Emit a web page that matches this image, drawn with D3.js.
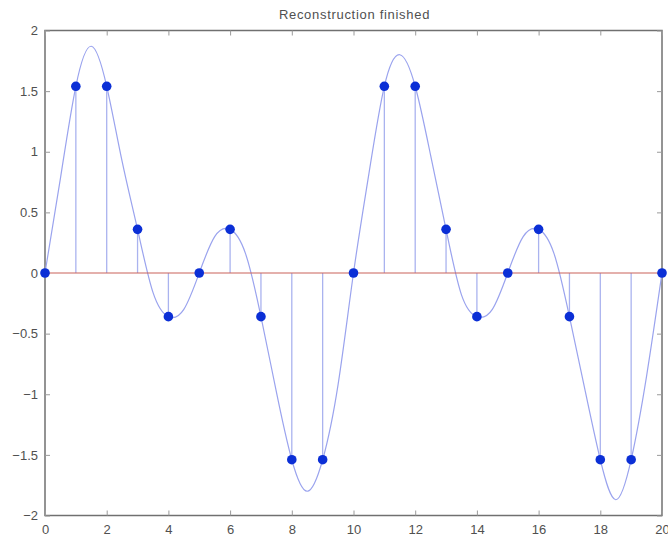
<!DOCTYPE html>
<html>
<head>
<meta charset="utf-8">
<script src="https://cdn.jsdelivr.net/npm/d3@7"></script>
<style>
  html, body { margin: 0; padding: 0; background: #ffffff; }
  svg { display: block; }
  text { font-family: "Liberation Sans", Arial, Helvetica, sans-serif; }
</style>
</head>
<body>
<svg id="chart" width="668" height="539"></svg>
<script>
// Sample indices and the sampled signal values
const sampleIndex = [0, 1, 2, 3, 4, 5, 6, 7, 8, 9, 10, 11, 12, 13, 14, 15, 16, 17, 18, 19, 20];
const sampleValues = [0, 1.54, 1.54, 0.36, -0.36, 0, 0.36, -0.36, -1.54, -1.54, 0,
                      1.54, 1.54, 0.36, -0.36, 0, 0.36, -0.36, -1.54, -1.54, 0];

// Reconstructed continuous signal, tabulated every half unit
const curveT = [0, 0.5, 1, 1.5, 2, 2.5, 3, 3.5, 4, 4.5, 5, 5.5, 6, 6.5, 7, 7.5, 8, 8.5, 9, 9.5, 10,
                10.5, 11, 11.5, 12, 12.5, 13, 13.5, 14, 14.5, 15, 15.5, 16, 16.5, 17, 17.5, 18, 18.5, 19, 19.5, 20];
const curveValues = [0, 0.78, 1.54, 1.87, 1.54, 0.92, 0.36, -0.16, -0.36, -0.30, 0, 0.30, 0.36, 0.16, -0.36, -0.98, -1.54, -1.80, -1.54, -0.92, 0,
                     0.82, 1.54, 1.80, 1.54, 0.97, 0.36, -0.18, -0.36, -0.30, 0, 0.30, 0.36, 0.16, -0.36, -0.96, -1.54, -1.87, -1.54, -0.85, 0];

// Axis tick labels
const xTicks = [0, 2, 4, 6, 8, 10, 12, 14, 16, 18, 20];
const yTicks = [-2, -1.5, -1, -0.5, 0, 0.5, 1, 1.5, 2];
const titleText = "Reconstruction finished";

const svg = d3.select("#chart");
const plotLeft = 45, plotRight = 662, plotTop = 30.5, plotBottom = 515.5;

const x = d3.scaleLinear().domain([0, 20]).range([plotLeft, plotRight]);
const y = d3.scaleLinear().domain([-2, 2]).range([plotBottom, plotTop]);

const axisColor = "#707070";
const labelColor = "#505050";

// Plot box
svg.append("rect")
  .attr("x", plotLeft).attr("y", plotTop)
  .attr("width", plotRight - plotLeft).attr("height", plotBottom - plotTop)
  .attr("fill", "none").attr("stroke", axisColor).attr("stroke-width", 1.5);

// Inward ticks on all four sides (box style)
const tickLen = 5;
const fmt = d => (d < 0 ? "\u2212" : "") + String(Math.abs(d));

const bottomAxis = d3.axisBottom(x).tickValues(xTicks).tickSize(-tickLen).tickPadding(9).tickFormat(d3.format("d"));
const topAxis = d3.axisTop(x).tickValues(xTicks).tickSize(-tickLen).tickFormat("");
const leftAxis = d3.axisLeft(y).tickValues(yTicks).tickSize(-tickLen).tickPadding(7).tickFormat(fmt);
const rightAxis = d3.axisRight(y).tickValues(yTicks).tickSize(-tickLen).tickFormat("");

function styleAxis(g) {
  g.select(".domain").remove();
  g.selectAll(".tick line").attr("stroke", "#9a9a9a").attr("stroke-width", 1);
  g.selectAll(".tick text").attr("fill", labelColor).attr("font-size", 13)
    .attr("font-family", "\"Liberation Sans\", Arial, sans-serif");
}

svg.append("g").attr("transform", `translate(0,${plotBottom})`).call(bottomAxis).call(styleAxis);
svg.append("g").attr("transform", `translate(0,${plotTop})`).call(topAxis).call(styleAxis);
svg.append("g").attr("transform", `translate(${plotLeft},0)`).call(leftAxis).call(styleAxis);
svg.append("g").attr("transform", `translate(${plotRight},0)`).call(rightAxis).call(styleAxis);

// Reconstructed curve
const curvePts = curveT.map((t, i) => [t, curveValues[i]]);
const line = d3.line()
  .x(d => x(d[0])).y(d => y(d[1]))
  .curve(d3.curveNatural);

const plot = svg.append("g");

// Stems
plot.selectAll("line.stem")
  .data(sampleIndex)
  .join("line")
  .attr("class", "stem")
  .attr("x1", d => x(d)).attr("x2", d => x(d))
  .attr("y1", y(0)).attr("y2", (d, i) => y(sampleValues[i]))
  .attr("stroke", "#aab3ef").attr("stroke-width", 1.3);

plot.append("path")
  .datum(curvePts)
  .attr("d", line)
  .attr("fill", "none")
  .attr("stroke", "#9aa3ee")
  .attr("stroke-width", 1.2);

// Baseline
plot.append("line")
  .attr("x1", x(0)).attr("x2", x(20))
  .attr("y1", y(0)).attr("y2", y(0))
  .attr("stroke", "#c9625a").attr("stroke-width", 1.2);

// Sample markers
plot.selectAll("circle.sample")
  .data(sampleIndex)
  .join("circle")
  .attr("class", "sample")
  .attr("cx", d => x(d))
  .attr("cy", (d, i) => y(sampleValues[i]))
  .attr("r", 4.8)
  .attr("fill", "#0b2fd6");

// Title
svg.append("text")
  .attr("x", (plotLeft + plotRight) / 2 + 1)
  .attr("y", 19)
  .attr("text-anchor", "middle")
  .attr("font-size", 13)
  .attr("letter-spacing", "0.7px")
  .attr("fill", "#505050")
  .text(titleText);
</script>
</body>
</html>
